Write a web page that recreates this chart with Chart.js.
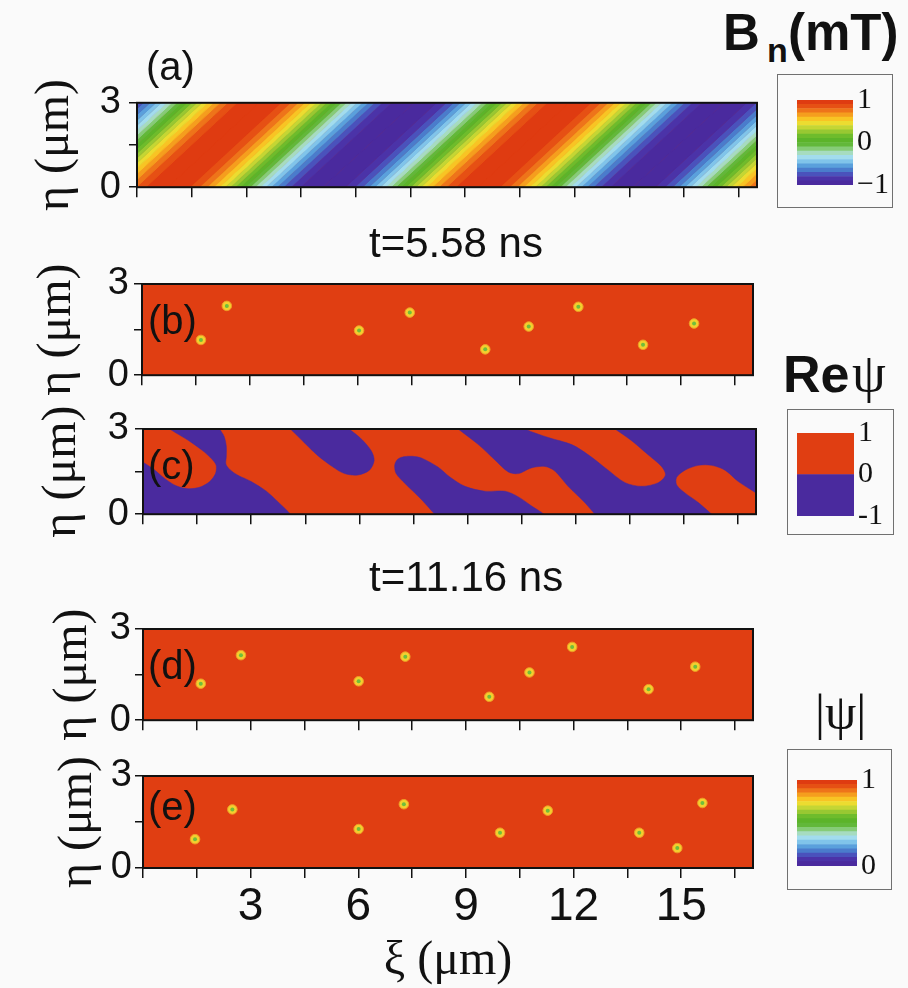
<!DOCTYPE html>
<html>
<head>
<meta charset="utf-8">
<script src="https://cdn.jsdelivr.net/npm/chart.js@4.4.1/dist/chart.umd.min.js"></script>
<style>
  html, body { margin: 0; padding: 0; background: #fafafa; }
  body { width: 908px; height: 988px; position: relative; overflow: hidden; }
  canvas, .txt, .box { position: absolute; }
  .txt { line-height: 1; white-space: nowrap; color: #111; font-family: 'Liberation Sans', Arial, sans-serif; }
  .serif { font-family: 'Liberation Serif', 'Times New Roman', serif; }
  .bold { font-weight: bold; }
  .box { border: 1px solid #707070; box-sizing: border-box; }
</style>
</head>
<body>

<div class="box" style="left:777px; top:74px; width:116px; height:134px;"></div>
<div class="box" style="left:787px; top:409px; width:107px; height:126px;"></div>
<div class="box" style="left:787px; top:749px; width:105px; height:141px;"></div>

<canvas id="pa" width="770" height="146" style="left:0; top:72px;"></canvas>
<canvas id="pb" width="770" height="149" style="left:0; top:254px;"></canvas>
<canvas id="pc" width="770" height="144" style="left:0; top:399px;"></canvas>
<canvas id="pd" width="770" height="148" style="left:0; top:599px;"></canvas>
<canvas id="pe" width="770" height="244" style="left:0; top:746px;"></canvas>

<canvas id="cbBn" width="110" height="129" style="left:790px; top:78px;"></canvas>
<canvas id="cbRe" width="110" height="127" style="left:790px; top:411px;"></canvas>
<canvas id="cbAbs" width="110" height="130" style="left:790px; top:758px;"></canvas>

<div class="txt" style="left:146px; top:46px; font-size:40px;">(a)</div>
<div class="txt" style="left:148px; top:300px; font-size:40px;">(b)</div>
<div class="txt" style="left:148px; top:445px; font-size:40px;">(c)</div>
<div class="txt" style="left:148px; top:645px; font-size:40px;">(d)</div>
<div class="txt" style="left:148px; top:786px; font-size:40px;">(e)</div>
<div class="txt" style="left:369px; top:222px; font-size:42px;">t=5.58 ns</div>
<div class="txt" style="left:369px; top:556px; font-size:42px;">t=11.16 ns</div>

<div class="txt bold" style="left:723px; top:7px; font-size:51px;">B</div>
<div class="txt bold" style="left:767px; top:33px; font-size:34px;">n</div>
<div class="txt bold" style="left:788px; top:7px; font-size:51px;">(mT)</div>
<div class="txt bold" style="left:783px; top:348px; font-size:52px;">Re</div>
<div class="txt serif" style="left:852px; top:346px; font-size:54px;">ψ</div>
<div class="txt serif" style="left:815px; top:687px; font-size:50px;">|ψ|</div>

<script>
// ---------- axes ----------
const xiTicks = [0, 1.5, 3, 4.5, 6, 7.5, 9, 10.5, 12, 13.5, 15, 16.5];
const xiLabels = [3, 6, 9, 12, 15];
const etaTicks = [0, 1.5, 3];
const etaLabels = [0, 3];

// ---------- (a) Bn stripes ----------
// xi of the maxima / minima along eta = 0, and how far they drift by eta = 3
const bnMaxXi = [-7.65, 0.85, 9.35, 17.85];
const bnMinXi = [-3.4, 5.1, 13.6];
const bnDrift = 2.5;
const bnLevels = [-1, -0.9, -0.8, -0.7, -0.6, -0.5, -0.4, -0.3, -0.2, -0.1, 0,
                  0.1, 0.2, 0.3, 0.4, 0.5, 0.6, 0.7, 0.8, 0.9, 1];
const absLevels = [0, 0.05, 0.1, 0.15, 0.2, 0.25, 0.3, 0.35, 0.4, 0.45, 0.5,
                   0.55, 0.6, 0.65, 0.7, 0.75, 0.8, 0.85, 0.9, 0.95, 1];
const rainbow = ['#4a2a9e', '#4b33a8', '#4a52bc', '#4a7ccc', '#5aa0dc', '#80c4ea', '#a2dcee',
                 '#a6dcc0', '#86cc78', '#62b83a', '#5cb42a', '#6ebc2c', '#98c832', '#c4d634',
                 '#ecdc30', '#f8c424', '#f59e1e', '#ee741a', '#e65014', '#df3b11'];
const RED = '#e03e12';
const PURPLE = '#4a2a9e';

// ---------- (b) (d) (e) vortex cores ----------
const vortexB_xi  = [1.64, 2.36, 6.04, 7.45, 9.55, 10.76, 12.14, 13.94, 15.36];
const vortexB_eta = [1.16, 2.28, 1.47, 2.06, 0.85, 1.60, 2.25, 1.00, 1.70];
const vortexD_xi  = [1.61, 2.73, 6.01, 7.31, 9.65, 10.77, 11.96, 14.09, 15.39];
const vortexD_eta = [1.20, 2.14, 1.28, 2.09, 0.77, 1.57, 2.41, 1.02, 1.76];
const vortexE_xi  = [1.45, 2.49, 6.01, 7.27, 9.95, 11.28, 13.83, 14.89, 15.59];
const vortexE_eta = [0.94, 1.91, 1.27, 2.08, 1.15, 1.87, 1.15, 0.65, 2.12];

// ---------- (c) Re psi < 0 regions (xi, eta) ----------
const reBlueA = [[2.05,3.3],[2.13,3.0],[2.25,2.74],[2.31,2.40],[2.31,2.02],[2.30,1.76],[2.42,1.56],
  [2.62,1.38],[3.00,1.15],[3.42,0.81],[3.74,0.44],[3.97,0.16],[4.09,0.0],[4.25,-0.3],
  [-0.3,-0.3],[-0.3,2.08],[0.0,1.83],[0.28,1.60],[0.60,1.26],[0.92,1.00],[1.25,0.90],[1.57,0.95],
  [1.85,1.15],[2.01,1.43],[2.03,1.72],[1.91,1.94],[1.66,2.23],[1.29,2.57],[0.97,2.82],[0.74,3.0],[0.4,3.3]];
const reBlueB = [[3.85,3.3],[5.4,3.3],[5.72,3.0],[6.07,2.63],[6.33,2.23],[6.41,1.89],[6.28,1.55],
  [5.96,1.38],[5.59,1.43],[5.27,1.66],[4.85,2.06],[4.48,2.51],[4.21,2.85],[4.09,3.0]];
const reBlueC = [[8.33,-0.3],[8.09,0.0],[7.72,0.52],[7.26,1.09],[7.02,1.43],[6.98,1.72],[7.05,1.92],
  [7.22,2.02],[7.47,2.04],[7.72,1.98],[8.18,1.66],[8.50,1.32],[8.93,0.98],[9.48,0.81],[10.04,0.81],
  [10.41,0.61],[10.80,0.27],[11.12,0.0],[11.35,-0.3]];
const reBlueD = [[8.45,3.3],[10.3,3.3],[10.6,3.0],[11.24,2.70],[11.89,2.45],[12.35,2.09],[12.90,1.55],
  [13.37,1.11],[13.83,0.98],[14.29,1.11],[14.49,1.38],[14.38,1.68],[14.01,2.09],[13.55,2.59],[13.09,3.0],
  [12.75,3.3],[17.3,3.3],[17.3,0.5],[17.0,0.75],[16.51,1.15],[16.14,1.55],[15.77,1.72],[15.40,1.72],
  [15.03,1.55],[14.80,1.30],[14.80,1.03],[15.03,0.75],[15.40,0.41],[15.77,0.0],[16.04,-0.3],
  [12.73,-0.3],[12.53,0.0],[12.25,0.41],[11.79,0.98],[11.42,1.52],[11.15,1.68],[10.77,1.63],
  [10.41,1.43],[10.13,1.49],[9.76,1.91],[9.30,2.45],[8.74,3.0]];

// ---------- plugins ----------
const frame = {
  id: 'frame',
  beforeDatasetsDraw(chart, args, opts) {
    if (!opts.fill) return;
    const {ctx, chartArea: a} = chart;
    ctx.save();
    ctx.fillStyle = opts.fill;
    ctx.fillRect(a.left, a.top, a.width, a.height);
    ctx.restore();
  },
  afterDatasetsDraw(chart) {
    const {ctx, chartArea: a} = chart;
    ctx.save();
    ctx.strokeStyle = '#111';
    ctx.lineWidth = 2;
    ctx.strokeRect(a.left, a.top, a.width, a.height);
    ctx.restore();
  }
};

// ---------- dataset builders ----------
function bnBands() {
  const ext = bnMaxXi.map(u => [u, 1]).concat(bnMinXi.map(u => [u, -1])).sort((p, q) => p[0] - q[0]);
  return rainbow.map((color, i) => {
    const lo = bnLevels[i], hi = bnLevels[i + 1];
    const pts = [];
    for (let k = 0; k + 1 < ext.length; k++) {
      const ua = ext[k][0], va = ext[k][1], ub = ext[k + 1][0];
      const at = v => ua + (ub - ua) * Math.acos(Math.max(-1, Math.min(1, v / va))) / Math.PI;
      const u1 = Math.min(at(lo), at(hi)), u2 = Math.max(at(lo), at(hi));
      pts.push({x: u1, y: 0}, {x: u2, y: 0}, {x: u2 + bnDrift, y: 3}, {x: u1 + bnDrift, y: 3}, {x: u1, y: null});
    }
    return { data: pts, fill: 'shape', backgroundColor: color, borderColor: color, borderWidth: 1,
             pointRadius: 0, tension: 0 };
  });
}

function region(arr) {
  return { data: arr.map(p => ({x: p[0], y: p[1]})), fill: 'shape', backgroundColor: PURPLE,
           borderColor: PURPLE, borderWidth: 0.5, pointRadius: 0, tension: 0.3 };
}

function vortices(xs, ys) {
  const pts = xs.map((x, i) => ({x: x, y: ys[i]}));
  return [
    { data: pts, showLine: false, pointRadius: 2, pointBackgroundColor: '#6fbe3c', pointBorderWidth: 0 },
    { data: pts, showLine: false, pointRadius: 4.8, pointBackgroundColor: '#f3cf2e',
      pointBorderColor: '#ef9a26', pointBorderWidth: 1 }
  ];
}

// ---------- panels ----------
function panel(id, p) {
  return new Chart(document.getElementById(id), {
    type: 'line',
    data: { datasets: p.datasets },
    options: {
      responsive: false,
      animation: false,
      devicePixelRatio: 1,
      layout: { padding: { left: p.padLeft, top: 30, right: p.padRight, bottom: 0 } },
      elements: { line: { capBezierPoints: false } },
      plugins: { legend: { display: false }, tooltip: { enabled: false }, frame: { fill: p.fill } },
      scales: {
        x: {
          type: 'linear', min: 0, max: 17,
          afterBuildTicks: s => { s.ticks = xiTicks.map(v => ({ value: v })); },
          afterFit: s => { s.height = p.xHeight; },
          grid: { drawOnChartArea: false, tickLength: 10, color: '#111', lineWidth: 1.5 },
          border: { display: false },
          ticks: {
            display: !!p.xLabels, autoSkip: false, maxRotation: 0, padding: 2, color: '#111',
            font: { family: 'Liberation Sans', size: 46 },
            callback: v => xiLabels.includes(v) ? String(v) : ''
          },
          title: {
            display: !!p.xLabels, text: 'ξ (μm)', color: '#111', padding: { top: 0, bottom: 0 },
            font: { family: 'Liberation Serif', size: 48 }
          }
        },
        y: {
          type: 'linear', min: 0, max: 3,
          afterBuildTicks: s => { s.ticks = etaTicks.map(v => ({ value: v })); },
          afterFit: s => { s.width = p.yWidth; },
          grid: { drawOnChartArea: false, tickLength: 8, color: '#111', lineWidth: 1.5 },
          border: { display: false },
          ticks: {
            autoSkip: false, padding: p.yPad, color: '#111',
            font: { family: 'Liberation Sans', size: 38 },
            callback: v => etaLabels.includes(v) ? String(v) : ''
          },
          title: {
            display: true, text: 'η (μm)', color: '#111', padding: { top: 0, bottom: 0 },
            font: { family: 'Liberation Serif', size: 48 }
          }
        }
      }
    },
    plugins: [frame]
  });
}

panel('pa', { datasets: bnBands(), fill: RED, padLeft: 27, yWidth: 110, padRight: 13, xHeight: 26, yPad: 8 });
panel('pb', { datasets: vortices(vortexB_xi, vortexB_eta), fill: RED, padLeft: 29, yWidth: 113, padRight: 17, xHeight: 26, yPad: 5 });
panel('pc', { datasets: [region(reBlueA), region(reBlueB), region(reBlueC), region(reBlueD)], fill: RED,
              padLeft: 34, yWidth: 109, padRight: 14, xHeight: 26, yPad: 6 });
panel('pd', { datasets: vortices(vortexD_xi, vortexD_eta), fill: RED, padLeft: 45, yWidth: 98, padRight: 17, xHeight: 26, yPad: 4 });
panel('pe', { datasets: vortices(vortexE_xi, vortexE_eta), fill: RED, padLeft: 50, yWidth: 93, padRight: 17, xHeight: 122, yPad: 3, xLabels: true });

// ---------- colour bars ----------
function colorbar(id, p) {
  const datasets = p.colors.map((c, i) => ({
    data: [[p.levels[i], p.levels[i + 1]]], backgroundColor: c, borderWidth: 0,
    barPercentage: 1, categoryPercentage: 1
  }));
  return new Chart(document.getElementById(id), {
    type: 'bar',
    data: { labels: [''], datasets: datasets },
    options: {
      responsive: false,
      animation: false,
      devicePixelRatio: 1,
      layout: { padding: { left: 7, top: 20, bottom: 20, right: p.padRight } },
      plugins: { legend: { display: false }, tooltip: { enabled: false } },
      scales: {
        x: { display: false, stacked: true },
        y: {
          position: 'right', stacked: false,
          min: p.levels[0], max: p.levels[p.levels.length - 1],
          afterBuildTicks: s => { s.ticks = p.ticks.map(v => ({ value: v })); },
          afterFit: s => { s.width = 40; },
          grid: { display: false, drawTicks: false },
          border: { display: false },
          ticks: {
            padding: 4, color: '#111', font: { family: 'Liberation Serif', size: 30 },
            callback: (v, i) => p.tickText[i]
          }
        }
      }
    }
  });
}

colorbar('cbBn', { levels: bnLevels, colors: rainbow, ticks: [-1, 0, 1], tickText: ['\u22121', '0', '1'], padRight: 7 });
colorbar('cbRe', { levels: [-1, -0.5, 0, 0.5, 1], colors: [PURPLE, PURPLE, RED, RED], ticks: [-1, 0, 1], tickText: ['-1', '0', '1'], padRight: 6 });
colorbar('cbAbs', { levels: absLevels, colors: rainbow, ticks: [0, 1], tickText: ['0', '1'], padRight: 3 });
</script>
</body>
</html>
